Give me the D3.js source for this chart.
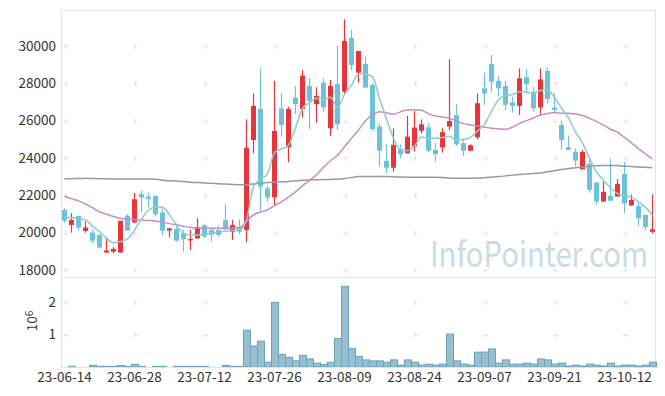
<!DOCTYPE html>
<html>
<head>
<meta charset="utf-8">
<script src="https://cdn.jsdelivr.net/npm/d3@7"></script>
<style>
  body { margin: 0; background: #fff; }
  text { font-family: "Noto Sans CJK KR", "Noto Sans", sans-serif; }
</style>
</head>
<body>
<div id="vis"></div>
<script>
// trading days, 23-06-14 .. 23-10-18
const dates = ["23-06-14","23-06-15","23-06-16","23-06-19","23-06-20","23-06-21","23-06-22","23-06-23","23-06-26","23-06-27",
  "23-06-28","23-06-29","23-06-30","23-07-03","23-07-04","23-07-05","23-07-06","23-07-07","23-07-10","23-07-11",
  "23-07-12","23-07-13","23-07-14","23-07-17","23-07-18","23-07-19","23-07-20","23-07-21","23-07-24","23-07-25",
  "23-07-26","23-07-27","23-07-28","23-07-31","23-08-01","23-08-02","23-08-03","23-08-04","23-08-07","23-08-08",
  "23-08-09","23-08-10","23-08-11","23-08-14","23-08-16","23-08-17","23-08-18","23-08-21","23-08-22","23-08-23",
  "23-08-24","23-08-25","23-08-28","23-08-29","23-08-30","23-08-31","23-09-01","23-09-04","23-09-05","23-09-06",
  "23-09-07","23-09-08","23-09-11","23-09-12","23-09-13","23-09-14","23-09-15","23-09-18","23-09-19","23-09-20",
  "23-09-21","23-09-22","23-09-25","23-09-26","23-09-27","23-10-04","23-10-05","23-10-06","23-10-10","23-10-11",
  "23-10-12","23-10-13","23-10-16","23-10-17","23-10-18"]

const opens = [21210,20410,20890,20090,20000,19880,18930,18980,18930,20910,
  20550,22070,21930,21960,21070,20110,20200,19960,19610,19680,
  20390,20140,20140,20680,20050,20290,20140,24960,26630,22380,
  21890,26660,24570,27230,26630,27860,26890,28040,25590,27960,
  27550,30430,28570,29040,27910,25680,23840,23480,24460,24250,
  24610,25460,25640,24430,24570,25680,26300,24790,24390,25110,
  27730,29040,28130,27860,26980,26790,28320,27550,26710,28660,
  26700,25770,24570,24320,23390,23680,22680,21660,21960,21930,
  23140,21450,21430,20950,20040]
const highs = [21300,21040,20900,20600,20140,19900,19700,19220,20630,20980,
  22110,22250,22140,21980,21300,20230,20410,20140,20140,20770,
  20450,20230,20380,21520,20680,20710,26070,27460,28800,22500,
  28130,27460,26750,27860,28710,28270,27790,28270,28180,30020,
  31430,30860,29730,29430,28000,25860,24730,25590,24730,26250,
  26520,26070,25860,24820,25590,29290,26890,25050,24730,27460,
  28570,29520,28390,28130,27290,28800,28750,27820,28800,28840,
  27460,26000,25200,24520,24430,23980,22680,22730,23980,22860,
  23800,22050,21660,20950,22050]
const lows = [20530,20000,20140,20000,19430,19150,18930,18890,18930,20110,
  20500,21070,21340,20860,19840,19750,19520,18980,19070,19680,
  19700,19520,19800,20140,19610,19910,19480,24250,21180,21660,
  21480,25140,23770,26360,26180,25550,25890,26480,25180,25500,
  27380,28710,28040,27770,25460,23540,23180,23270,23980,24250,
  24340,25320,24290,23800,24290,25500,24640,24110,24390,25000,
  26840,27550,27290,26570,26430,26300,27460,26480,26300,26930,
  26390,24460,24430,23570,23390,22140,21480,21660,21710,21930,
  21040,21450,20360,20140,19960]
const closes = [20640,20680,20270,20270,19570,19200,19040,19130,20630,20110,
  21790,21880,21800,20980,20110,20230,19570,19640,19660,20290,
  19790,19880,19880,20180,20410,20050,24550,26790,22460,21880,
  25450,25770,26630,26890,28410,27070,27320,26710,27860,25800,
  30270,28980,29730,27770,25550,24390,23480,24700,24210,25140,
  25630,25800,24390,24210,25380,25980,24730,24390,24680,26930,
  27460,28090,27730,26840,26790,28270,27950,26660,28210,27160,
  26570,24960,24430,23860,24320,22290,21660,22180,21710,22610,
  21570,21750,20770,20290,20180]

// volume, millions of shares
const volumes = [0,0.02,0,0,0.05,0.02,0.02,0.02,0.05,0.02,
  0.08,0.02,0,0.02,0.02,0,0.02,0.02,0.02,0.02,
  0.02,0,0,0.05,0.02,0.02,1.14,0.65,0.80,0.15,
  2.0,0.39,0.30,0.19,0.36,0.25,0.12,0.08,0.15,0.89,
  2.5,0.58,0.33,0.22,0.19,0.19,0.15,0.22,0.06,0.22,
  0.15,0.06,0.09,0.06,0.09,1.02,0.19,0.09,0.06,0.46,
  0.46,0.56,0.12,0.22,0.09,0.09,0.12,0.09,0.25,0.22,
  0.09,0.12,0.03,0.06,0.03,0.09,0.06,0.03,0.12,0.03,
  0.06,0.06,0.03,0.06,0.15]

// moving averages
const ma5 = [20820,20800,20770,20680,20350,20050,19700,19460,19520,19660,
  20140,20730,21210,21360,21360,20950,20410,19960,19870,19870,
  19910,19960,20020,20090,20110,20140,20680,22460,22850,23150,
  24300,24480,24700,25600,26650,26950,27200,27140,27250,26710,
  27400,27900,28500,28500,28350,27200,26100,25050,24450,24390,
  24650,25120,25060,25060,25100,25160,24970,24990,25100,25450,
  25800,26500,27100,27350,27400,27550,27540,27450,27620,27640,
  27250,26680,26150,25400,24800,23980,23250,22800,22400,22100,
  21960,21900,21640,21350,20930]
const ma20 = [21950,21820,21700,21530,21330,21120,20980,20860,20770,20710,
  20690,20670,20650,20620,20560,20480,20420,20340,20270,20250,
  20230,20230,20230,20230,20240,20270,20600,20950,21100,21220,
  21450,21650,21900,22180,22500,22800,23100,23500,23850,24150,
  24600,25050,25500,26000,26300,26480,26420,26340,26470,26570,
  26580,26560,26360,26250,26200,26130,25980,25840,25770,25720,
  25650,25590,25560,25540,25650,25850,26000,26150,26300,26380,
  26430,26400,26390,26360,26280,26120,25950,25760,25540,25380,
  25100,24800,24500,24220,23930]
const ma120 = [22880,22890,22900,22910,22900,22890,22880,22875,22870,22870,
  22870,22870,22870,22860,22800,22780,22760,22740,22700,22680,
  22660,22640,22620,22600,22580,22560,22570,22600,22640,22680,
  22700,22720,22740,22780,22800,22820,22830,22840,22850,22860,
  22900,22950,23000,23010,23010,23000,23000,22990,22980,22970,
  22970,22960,22960,22960,22950,22920,22910,22910,22910,22920,
  22940,22970,23000,23040,23080,23110,23140,23170,23200,23260,
  23320,23380,23430,23480,23520,23560,23580,23590,23590,23590,
  23560,23540,23510,23500,23480]

const tickDates = ["23-06-14","23-06-28","23-07-12","23-07-26","23-08-09","23-08-24","23-09-07","23-09-21","23-10-12"]
const priceTicks = [18000,20000,22000,24000,26000,28000,30000]
const volTicks = [1,2]

const W = 665, H = 396
const pLeft = 61, pRight = 656, pTop = 10, pSplit = 277, pBottom = 367

let svg = d3.select("#vis").append("svg")
  .attr("width", W).attr("height", H)

let x = d3.scaleBand().domain(dates).range([pLeft, pRight]).padding(0)
let cx = d => x(d) + x.bandwidth() / 2
let y = d3.scaleLinear().domain([17620, 31930]).range([pSplit, pTop])
let yv = d3.scaleLinear().domain([0, 2.79]).range([pBottom, pSplit])

// frame
let frame = svg.append("g").attr("stroke", "#e3e3e3").attr("fill", "none")
frame.append("rect").attr("x", pLeft + .5).attr("y", pTop + .5)
  .attr("width", pRight - pLeft - 1).attr("height", pBottom - pTop)
frame.append("line").attr("x1", pLeft).attr("x2", pRight).attr("y1", pSplit + .5).attr("y2", pSplit + .5)

// grid crosses
let crosses = []
tickDates.map(cx).forEach(px => {
  priceTicks.forEach(v => crosses.push([px, y(v)]))
  volTicks.forEach(v => crosses.push([px, yv(v)]))
})
svg.append("g").attr("stroke", "#e4e4e4").attr("stroke-width", 1)
  .selectAll("path").data(crosses).join("path")
  .attr("d", d => `M${Math.round(d[0]) - 2},${Math.round(d[1]) + .5}h5M${Math.round(d[0]) + .5},${Math.round(d[1]) - 2}v5`)

// watermark
svg.append("text")
  .attr("transform", "translate(430,267) scale(1,1.2)")
  .attr("font-size", 29)
  .attr("textLength", 218).attr("lengthAdjust", "spacingAndGlyphs")
  .attr("fill", "#c9dce6")
  .text("InfoPointer.com")

// volume bars
svg.append("g")
  .attr("fill", "#97bfd0").attr("stroke", "#6aa3ba").attr("stroke-width", 1)
  .selectAll("rect").data(volumes.map((v, i) => ({v, d: dates[i]})).filter(o => o.v > 0))
  .join("rect")
  .attr("x", o => x(o.d) + .5)
  .attr("y", o => yv(o.v))
  .attr("width", x.bandwidth())
  .attr("height", o => pBottom - yv(o.v))

// candles
let candles = dates.map((d, i) => ({d, o: opens[i], h: highs[i], l: lows[i], c: closes[i]}))
let cg = svg.append("g").selectAll("g").data(candles).join("g")
  .attr("fill", k => k.c >= k.o ? "#e8353b" : "#6cc2da")
  .attr("stroke", k => k.c >= k.o ? "#e8353b" : "#6cc2da")
cg.append("line")
  .attr("x1", k => cx(k.d)).attr("x2", k => cx(k.d))
  .attr("y1", k => y(k.h)).attr("y2", k => y(k.l))
  .attr("stroke-width", 1.2)
cg.append("rect")
  .attr("stroke", "none")
  .attr("x", k => cx(k.d) - 2.5)
  .attr("width", 5)
  .attr("y", k => y(Math.max(k.o, k.c)))
  .attr("height", k => Math.max(1.5, Math.abs(y(k.o) - y(k.c))))

// moving averages
let line = d3.line().x((v, i) => cx(dates[i])).y(v => y(v)).curve(d3.curveMonotoneX)
let lines = [[ma120, "#999999"], [ma20, "#c88bc6"], [ma5, "#8ccfc2"]]
svg.append("g").attr("fill", "none").attr("stroke-width", 1.5)
  .selectAll("path").data(lines).join("path")
  .attr("stroke", d => d[1])
  .attr("d", d => line(d[0]))

// axes
let ax = svg.append("g").attr("fill", "#333").attr("font-size", 13.5)
ax.selectAll(".py").data(priceTicks).join("text")
  .attr("x", 56).attr("y", v => y(v)).attr("dy", "0.35em")
  .attr("text-anchor", "end").text(v => v)
ax.selectAll(".vy").data(volTicks).join("text")
  .attr("x", 56).attr("y", v => yv(v)).attr("dy", "0.35em")
  .attr("text-anchor", "end").text(v => v)

let xa = svg.append("g").attr("transform", `translate(0,${pBottom})`)
  .call(d3.axisBottom(x).tickValues(tickDates).tickSize(0).tickPadding(5))
xa.select(".domain").attr("stroke", "#e3e3e3")
xa.selectAll("text").attr("fill", "#333").attr("font-size", 13.5)
  .attr("font-family", '"Noto Sans CJK KR", "Noto Sans", sans-serif')

let vt = svg.append("text")
  .attr("transform", "translate(37,321) rotate(-90)")
  .attr("text-anchor", "middle").attr("fill", "#333").attr("font-size", 13.5)
vt.append("tspan").text("10")
vt.append("tspan").attr("dy", "-0.45em").attr("font-size", 10).text("6")
</script>
</body>
</html>
